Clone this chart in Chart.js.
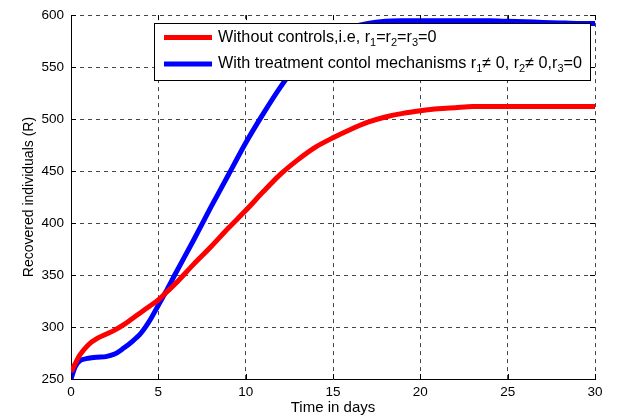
<!DOCTYPE html>
<html>
<head>
<meta charset="utf-8">
<script src="https://cdn.jsdelivr.net/npm/chart.js@4"></script>
<style>
  html, body { margin: 0; padding: 0; background: #fff; }
  #wrap { width: 617px; height: 419px; }
</style>
</head>
<body>
<div id="wrap"><canvas id="chart" width="617" height="419"></canvas></div>
<script>
'use strict';

// time axis (days)
const days = [0, 0.25, 0.5, 1, 1.5, 2, 2.5, 3, 3.5, 4, 4.5, 5, 5.5, 6, 7, 8, 9, 10, 11, 12, 13, 14, 15,
    16, 17, 18, 19, 20, 21, 22, 23, 24, 25, 26, 27, 28, 29, 30];

// recovered individuals, no controls (r1=r2=r3=0)
const noControls = [257, 265, 273, 283, 289, 293, 297, 302, 308, 314, 320, 326, 334, 342, 360, 377, 395, 412,
    430, 447, 461, 473, 482, 490, 497, 502, 505.5, 508, 510, 511, 512, 512, 512, 512, 512, 512, 512, 512];

// recovered individuals with treatment controls
const withTreatment = [250, 262, 267.5, 270, 271, 271.5, 274, 279.5, 286, 294, 306, 321, 336, 352, 383, 415,
    446, 477, 505, 531, 553, 570, 581, 588, 592, 594, 594.5, 594.5, 594.5, 594.5, 594.5, 594.5, 594, 593.5,
    593, 592.5, 592, 592];

const xTicks = [0, 5, 10, 15, 20, 25, 30];
const yTicks = [250, 300, 350, 400, 450, 500, 550, 600];

const legendItems = [
    { color: '#ff0000', parts: [['Without controls,i.e, r', 0], ['1', 1], ['=r', 0], ['2', 1], ['=r', 0], ['3', 1], ['=0', 0]] },
    { color: '#0000ff', parts: [['With treatment contol mechanisms r', 0], ['1', 1], ['\u2260 0, r', 0], ['2', 1], ['\u2260 0,r', 0], ['3', 1], ['=0', 0]] },
];

const FONT = '"Liberation Sans", Arial, sans-serif';

const toPoints = (xs, ys) => xs.map((x, i) => ({ x: x, y: ys[i] }));

// MATLAB-like inward ticks and legend box with subscripts
const matlabBits = {
    id: 'matlabBits',
    afterDatasetsDraw(chart) {
        const ctx = chart.ctx;
        const area = chart.chartArea;
        const xs = chart.scales.x;
        const ys = chart.scales.y;
        ctx.save();
        ctx.strokeStyle = '#000';
        ctx.lineWidth = 1;
        ctx.beginPath();
        xTicks.forEach(v => {
            const px = Math.round(xs.getPixelForValue(v)) + 0.5;
            ctx.moveTo(px, area.bottom); ctx.lineTo(px, area.bottom - 5);
            ctx.moveTo(px, area.top); ctx.lineTo(px, area.top + 5);
        });
        yTicks.forEach(v => {
            const py = Math.round(ys.getPixelForValue(v)) + 0.5;
            ctx.moveTo(area.left, py); ctx.lineTo(area.left + 5, py);
            ctx.moveTo(area.right, py); ctx.lineTo(area.right - 5, py);
        });
        ctx.stroke();

        // legend
        const bx = 154.5, by = 23.5, bw = 436, bh = 57;
        ctx.fillStyle = '#fff';
        ctx.fillRect(bx, by, bw, bh);
        ctx.strokeRect(bx, by, bw, bh);
        legendItems.forEach((item, i) => {
            const y = 37.5 + i * 26.5;
            ctx.strokeStyle = item.color;
            ctx.lineWidth = 5;
            ctx.beginPath();
            ctx.moveTo(164, y);
            ctx.lineTo(212, y);
            ctx.stroke();
            let x = 218;
            ctx.fillStyle = '#000';
            ctx.textBaseline = 'middle';
            item.parts.forEach(([txt, sub]) => {
                ctx.font = (sub ? '11px ' : '16.2px ') + FONT;
                ctx.fillText(txt, x, sub ? y + 5 : y);
                x += ctx.measureText(txt).width;
            });
        });
        ctx.restore();
    }
};

window.addEventListener('load', () => {
    const config = {
        type: 'line',
        data: {
            datasets: [
                {
                    label: 'Without controls',
                    data: toPoints(days, noControls),
                    borderColor: '#ff0000',
                    borderWidth: 5,
                    pointRadius: 0,
                    tension: 0.3,
                    fill: false,
                },
                {
                    label: 'With treatment',
                    data: toPoints(days, withTreatment),
                    borderColor: '#0000ff',
                    borderWidth: 5,
                    pointRadius: 0,
                    tension: 0.3,
                    fill: false,
                },
            ]
        },
        options: {
            responsive: false,
            animation: false,
            layout: { padding: { left: 0, top: 15, right: 22, bottom: 0 } },
            plugins: {
                legend: { display: false },
                tooltip: { enabled: false },
            },
            scales: {
                x: {
                    type: 'linear',
                    min: 0,
                    max: 30,
                    afterBuildTicks: s => { s.ticks = xTicks.map(v => ({ value: v })); },
                    afterFit: s => { s.height = 40; },
                    grid: { color: '#444', drawTicks: false, lineWidth: 1 },
                    border: { display: true, color: '#000', width: 1, dash: [4, 4] },
                    ticks: { color: '#000', font: { family: FONT, size: 13.5 }, padding: 5, maxRotation: 0 },
                    title: { display: true, text: 'Time in days', color: '#000', font: { family: FONT, size: 15 }, padding: { top: 0, bottom: 2 } },
                },
                y: {
                    min: 250,
                    max: 600,
                    afterBuildTicks: s => { s.ticks = yTicks.map(v => ({ value: v })); },
                    afterFit: s => { s.width = 71; },
                    grid: { color: '#444', drawTicks: false, lineWidth: 1 },
                    border: { display: true, color: '#000', width: 1, dash: [4, 4] },
                    ticks: { color: '#000', font: { family: FONT, size: 13.5 }, padding: 7 },
                    title: { display: true, text: 'Recovered individuals (R)', color: '#000', font: { family: FONT, size: 14 }, padding: { top: 21, bottom: 0 } },
                },
            },
        },
        plugins: [matlabBits],
    };
    const el = document.getElementById('chart');
    new Chart(el, config);
});
</script>
</body>
</html>
